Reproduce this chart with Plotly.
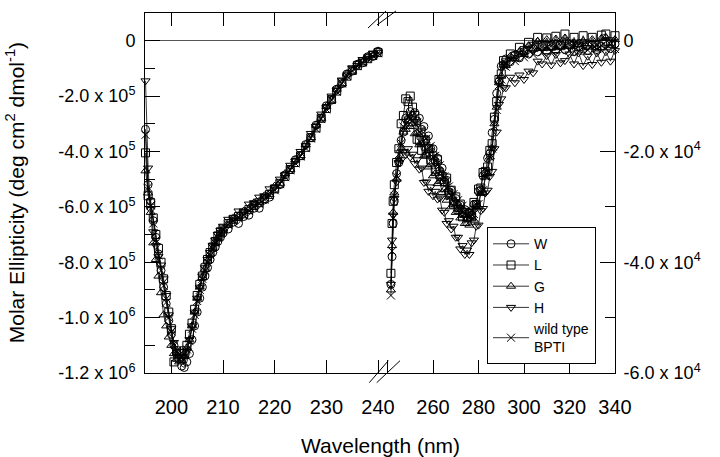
import plotly.graph_objects as go

# ---------------- data ----------------
# Far-UV region (left panel), ellipticity in units of 10^5 deg cm2 dmol-1
wl_far = [195, 195.5, 196, 196.5, 197, 197.5, 198, 198.5, 199, 199.5,
          200, 200.5, 201, 201.5, 202, 202.5, 203, 203.5, 204, 204.5,
          205, 205.5, 206, 206.5, 207, 207.5, 208, 208.5, 209, 209.5,
          210, 211, 212, 213, 214, 215, 216, 217, 218, 219, 220,
          221, 222, 223, 224, 225, 226, 227, 228, 229, 230,
          231, 232, 233, 234, 235, 236, 237, 238, 239, 240]

W_far = [-3.2, -5.2, -5.8, -6.5, -7.1, -7.7, -8.3, -8.9, -9.5, -10.1,
         -10.6, -11.0, -11.3, -11.5, -11.75, -11.8, -11.6, -11.3, -10.8, -10.3,
         -9.8, -9.3, -8.9, -8.5, -8.2, -7.9, -7.65, -7.45, -7.25, -7.1,
         -6.95, -6.8, -6.55, -6.6, -6.35, -6.3, -6.05, -6.05, -5.75, -5.65, -5.35,
         -5.2, -4.85, -4.65, -4.3, -4.15, -3.75, -3.5, -3.05, -2.8, -2.35,
         -2.15, -1.75, -1.55, -1.2, -1.1, -0.85, -0.8, -0.58, -0.57, -0.38]

L_far = [-4.05, -5.6, -5.85, -6.4, -7.0, -7.5, -8.0, -8.6, -9.2, -9.8,
         -10.4, -11.6, -11.2, -11.3, -11.3, -11.2, -11.0, -10.6, -10.2, -9.7,
         -9.2, -8.8, -8.5, -8.2, -7.9, -7.65, -7.45, -7.25, -7.05, -6.9,
         -6.8, -6.6, -6.45, -6.35, -6.25, -6.1, -5.95, -5.85, -5.7, -5.55, -5.35,
         -5.15, -4.9, -4.65, -4.4, -4.15, -3.85, -3.5, -3.15, -2.8, -2.45,
         -2.12, -1.82, -1.52, -1.28, -1.07, -0.9, -0.77, -0.65, -0.53, -0.43]

G_far = [-4.7, -5.5, -6.2, -7.3, -7.9, -8.5, -9.1, -9.9, -10.3, -10.7,
         -11.0, -11.3, -11.5, -11.6, -11.55, -11.4, -11.1, -10.8, -10.3, -9.8,
         -9.3, -8.9, -8.55, -8.25, -7.95, -7.7, -7.5, -7.3, -7.1, -6.95,
         -6.8, -6.65, -6.4, -6.35, -6.15, -6.1, -5.85, -5.85, -5.6, -5.55, -5.25,
         -5.15, -4.8, -4.65, -4.3, -4.15, -3.75, -3.5, -3.05, -2.8, -2.37,
         -2.15, -1.75, -1.55, -1.2, -1.1, -0.84, -0.78, -0.58, -0.54, -0.37]

H_far = [-1.45, -4.6, -6.1, -6.9, -7.4, -7.8, -8.1, -8.6, -9.2, -9.9,
         -10.4, -10.9, -11.2, -11.4, -11.5, -11.45, -11.2, -10.8, -10.3, -9.8,
         -9.3, -8.9, -8.5, -8.2, -7.9, -7.65, -7.4, -7.2, -7.0, -6.85,
         -6.7, -6.45, -6.4, -6.15, -6.15, -5.9, -5.85, -5.65, -5.6, -5.35, -5.3,
         -5.0, -4.85, -4.5, -4.35, -4.0, -3.8, -3.35, -3.1, -2.65, -2.42,
         -2.0, -1.8, -1.42, -1.27, -0.98, -0.9, -0.68, -0.64, -0.45, -0.42]

WT_far = [-3.4, -5.3, -5.95, -6.6, -7.2, -7.75, -8.3, -8.85, -9.45, -10.0,
          -10.5, -10.95, -11.2, -11.35, -11.4, -11.35, -11.15, -10.85, -10.4, -9.9,
          -9.4, -9.0, -8.6, -8.3, -8.0, -7.75, -7.5, -7.3, -7.12, -6.98,
          -6.85, -6.65, -6.5, -6.4, -6.3, -6.15, -6.0, -5.88, -5.74, -5.58, -5.4,
          -5.18, -4.93, -4.68, -4.43, -4.18, -3.88, -3.53, -3.18, -2.83, -2.48,
          -2.14, -1.84, -1.54, -1.28, -1.08, -0.92, -0.78, -0.66, -0.55, -0.45]

# Near-UV region (right panel), ellipticity in units of 10^4 deg cm2 dmol-1
wl_near = [241.5, 242, 242.5, 243,
           244, 245, 246, 247, 248, 249, 250, 251, 252, 253,
           254, 255, 256, 257, 258, 259, 260, 261, 262, 263,
           264, 265, 266, 267, 268, 269, 270, 271, 272, 273,
           274, 275, 276, 277, 278, 279, 280, 281, 282, 283,
           284, 285, 286, 287, 288, 289, 290, 291, 292,
           294, 296, 298, 300, 302, 304, 306, 308, 310, 312, 314, 316,
           318, 320, 322, 324, 326, 328, 330, 332, 334, 336, 338, 340]

W_near = [-4.4, -3.9, -3.3, -2.9,
          -2.4, -2.2, -1.8, -1.65, -1.4, -1.42, -1.28, -1.36, -1.3, -1.45,
          -1.4, -1.6, -1.55, -1.78, -1.72, -1.95, -1.95, -2.18, -2.12, -2.35,
          -2.3, -2.55, -2.52, -2.74, -2.7, -2.9, -2.85, -3.02, -2.97, -3.12,
          -3.05, -3.2, -3.1, -3.15, -2.96, -2.95, -2.72, -2.7, -2.44, -2.4,
          -2.12, -2.04, -1.66, -1.42, -0.95, -0.74, -0.46, -0.43, -0.33,
          -0.38, -0.26, -0.31, -0.2, -0.24, -0.14, -0.2, -0.1, -0.19, -0.09, -0.17, -0.08,
          -0.16, -0.08, -0.2, -0.05, -0.15, -0.18, -0.06, -0.16, -0.1, -0.02, -0.14, -0.06]

L_near = [-4.2, -3.3, -2.9, -2.6,
          -2.2, -1.95, -1.5, -1.35, -1.05, -1.1, -1.0, -1.2, -1.35, -1.78,
          -1.8, -1.98, -1.8, -2.05, -1.95, -2.15, -2.08, -2.32, -2.15, -2.42,
          -2.45, -2.55, -2.48, -2.75, -2.7, -2.95, -2.82, -3.05, -2.95, -3.18,
          -3.1, -3.26, -3.12, -3.18, -2.92, -2.96, -2.68, -2.66, -2.38, -2.36,
          -2.28, -1.98, -1.86, -1.38, -1.1, -0.7, -0.6, -0.36, -0.4,
          -0.24, -0.28, -0.12, -0.18, -0.03, -0.1, 0.06, -0.08, 0.05, -0.1, 0.08, -0.09,
          0.12, -0.06, 0.06, -0.1, 0.09, -0.08, 0.06, -0.09, 0.1, 0.12, -0.02, 0.09]

G_near = [-4.5, -3.7, -3.1, -2.75,
          -2.5, -2.15, -1.95, -1.65, -1.6, -1.45, -1.55, -1.5, -1.68, -1.66,
          -1.88, -1.86, -2.08, -2.06, -2.28, -2.24, -2.44, -2.4, -2.58, -2.54,
          -2.74, -2.69, -2.88, -2.82, -3.0, -2.95, -3.1, -3.04, -3.2, -3.15,
          -3.3, -3.22, -3.33, -3.2, -3.24, -3.02, -3.0, -2.76, -2.74, -2.46,
          -2.4, -2.1, -1.94, -1.5, -1.2, -0.76, -0.64, -0.44, -0.45,
          -0.28, -0.33, -0.2, -0.25, -0.09, -0.15, -0.01, -0.14, 0.02, -0.12, 0.03, -0.1,
          0.05, -0.1, -0.04, -0.07, -0.01, -0.05, 0.02, -0.12, 0.04, 0.06, -0.09, 0.02]

H_near = [-4.4, -3.6, -3.15, -2.85,
          -2.55, -2.2, -2.15, -2.0, -2.06, -1.95, -2.1, -2.05, -2.22, -2.15,
          -2.32, -2.3, -2.56, -2.55, -2.72, -2.64, -2.8, -2.72, -2.86, -2.84,
          -3.06, -3.1, -3.3, -3.25, -3.4, -3.35, -3.55, -3.55, -3.76, -3.7,
          -3.86, -3.78, -3.86, -3.65, -3.6, -3.35, -3.33, -3.07, -3.03, -2.75,
          -2.7, -2.45, -2.36, -1.95, -1.65, -1.15, -1.05, -0.85, -0.85,
          -0.66, -0.76, -0.62, -0.7, -0.55, -0.58, -0.37, -0.42, -0.27, -0.44, -0.25, -0.4,
          -0.36, -0.24, -0.42, -0.22, -0.45, -0.28, -0.43, -0.22, -0.39, -0.2, -0.37, -0.18]

WT_near = [-4.6, -3.8, -3.2, -2.8,
           -2.45, -2.05, -1.85, -1.55, -1.5, -1.35, -1.42, -1.36, -1.5, -1.48,
           -1.65, -1.63, -1.8, -1.77, -1.93, -1.9, -2.1, -2.08, -2.25, -2.25,
           -2.45, -2.45, -2.65, -2.63, -2.8, -2.77, -2.93, -2.88, -3.03, -2.98,
           -3.12, -3.05, -3.17, -3.07, -3.13, -2.95, -2.95, -2.73, -2.7, -2.45,
           -2.38, -2.1, -1.95, -1.55, -1.25, -0.8, -0.7, -0.45, -0.47,
           -0.33, -0.37, -0.23, -0.3, -0.17, -0.25, -0.13, -0.21, -0.12, -0.19, -0.11, -0.17,
           -0.1, -0.18, -0.06, -0.19, -0.11, -0.17, -0.08, -0.15, -0.09, -0.14, -0.07, -0.15]

series_names = ["W", "L", "G", "H", "wild type<br>BPTI"]
series_symbols = ["circle-open", "square-open", "triangle-up-open",
                  "triangle-down-open", "x-thin-open"]
far_values = [W_far, L_far, G_far, H_far, WT_far]
near_values = [W_near, L_near, G_near, H_near, WT_near]

left_tickvals = [-12, -10, -8, -6, -4, -2, 0]
left_ticktext = ["-1.2 x 10<sup>6</sup>", "-1.0 x 10<sup>6</sup>", "-8.0 x 10<sup>5</sup>",
                 "-6.0 x 10<sup>5</sup>", "-4.0 x 10<sup>5</sup>", "-2.0 x 10<sup>5</sup>", "0"]
right_tickvals = [-6, -4, -2, 0]
right_ticktext = ["-6.0 x 10<sup>4</sup>", "-4.0 x 10<sup>4</sup>", "-2.0 x 10<sup>4</sup>", "0"]
far_xticks = [200, 210, 220, 230, 240]
near_xticks = [240, 260, 280, 300, 320, 340]
near_xticktext = ["", "260", "280", "300", "320", "340"]

# ---------------- figure ----------------
FONT = "Liberation Sans, Arial, Helvetica, sans-serif"
fig = go.Figure()
for name, sym, fv, nv in zip(series_names, series_symbols, far_values, near_values):
    style = dict(mode="lines+markers", name=name, legendgroup=name, cliponaxis=False,
                 line=dict(color="black", width=0.8),
                 marker=dict(symbol=sym, size=8, color="black",
                             line=dict(color="black", width=1)))
    fig.add_trace(go.Scatter(x=wl_far, y=fv, xaxis="x", yaxis="y", showlegend=True, **style))
    fig.add_trace(go.Scatter(x=wl_near, y=nv, xaxis="x2", yaxis="y2", showlegend=False, **style))

split = 0.5053
axis_common = dict(showline=True, linecolor="black", linewidth=1, showgrid=False,
                   automargin=False, ticks="inside", tickcolor="black", tickwidth=1)
xfont = dict(family=FONT, size=20, color="black")
yfont = dict(family=FONT, size=18, color="black")

fig.update_layout(
    width=720, height=457,
    margin=dict(l=145, r=105, t=13, b=84, autoexpand=False),
    paper_bgcolor="white", plot_bgcolor="white",
    font=dict(family=FONT, color="black"),
    xaxis=dict(domain=[0, split], range=[194.9, 240.86], anchor="y",
               tickmode="array", tickvals=far_xticks, ticklen=13, mirror="ticks",
               zeroline=False, ticklabelstandoff=16, tickfont=xfont, **axis_common),
    xaxis2=dict(domain=[split, 1], range=[237.8, 340], anchor="y2",
                tickmode="array", tickvals=near_xticks, ticktext=near_xticktext,
                ticklen=13, mirror="ticks", zeroline=False, ticklabelstandoff=16,
                tickfont=xfont, **axis_common),
    yaxis=dict(domain=[0, 1], range=[-12, 1.0], anchor="x",
               tickmode="array", tickvals=left_tickvals, ticktext=left_ticktext,
               ticklen=15, ticklabelstandoff=5, tickfont=yfont,
               minor=dict(tickmode="array", tickvals=[-11, -9, -7, -5, -3, -1],
                          ticks="inside", ticklen=10, tickcolor="black", tickwidth=1),
               zeroline=True, zerolinecolor="#555555", zerolinewidth=1, **axis_common),
    yaxis2=dict(domain=[0, 1], range=[-6, 0.5], anchor="x2", side="right",
                tickmode="array", tickvals=right_tickvals, ticktext=right_ticktext,
                ticklen=15, ticklabelstandoff=4, tickfont=yfont,
                minor=dict(tickmode="array", tickvals=[-5, -3, -1],
                           ticks="inside", ticklen=10, tickcolor="black", tickwidth=1),
                zeroline=True, zerolinecolor="#555555", zerolinewidth=1, **axis_common),
    legend=dict(x=0.7277, y=0.405, xanchor="left", yanchor="top",
                bgcolor="white", bordercolor="black", borderwidth=1,
                font=dict(family=FONT, size=14, color="black"),
                itemwidth=36, tracegroupgap=0),
    annotations=[
        dict(text="Molar Ellipticity (deg cm<sup>2</sup> dmol<sup>-1</sup>)",
             xref="paper", yref="paper", x=-0.276, y=0.5, textangle=-90,
             showarrow=False, xanchor="center", yanchor="middle",
             font=dict(family=FONT, size=21, color="black")),
        dict(text="Wavelength (nm)", xref="paper", yref="paper", x=0.5, y=-0.2,
             showarrow=False, xanchor="center", yanchor="middle",
             font=dict(family=FONT, size=21, color="black")),
    ],
)

# axis-break marks (double slashes) on the bottom and top frame
breaks = [
    (0.4745, 0.9583, 0.5128, 1.0056), (0.4936, 0.9667, 0.5340, 1.0056),
    (0.4772, -0.0269, 0.5177, 0.0342), (0.4930, -0.0269, 0.5426, 0.0342),
]
for x0, y0, x1, y1 in breaks:
    fig.add_shape(type="line", xref="paper", yref="paper", x0=x0, y0=y0, x1=x1, y1=y1,
                  line=dict(color="black", width=1))

# remove the browser's default 8 px body margin so the figure fills the window
fig.write_html("out.html", config={"displayModeBar": False},
               post_script="document.body.style.margin='0px';")
